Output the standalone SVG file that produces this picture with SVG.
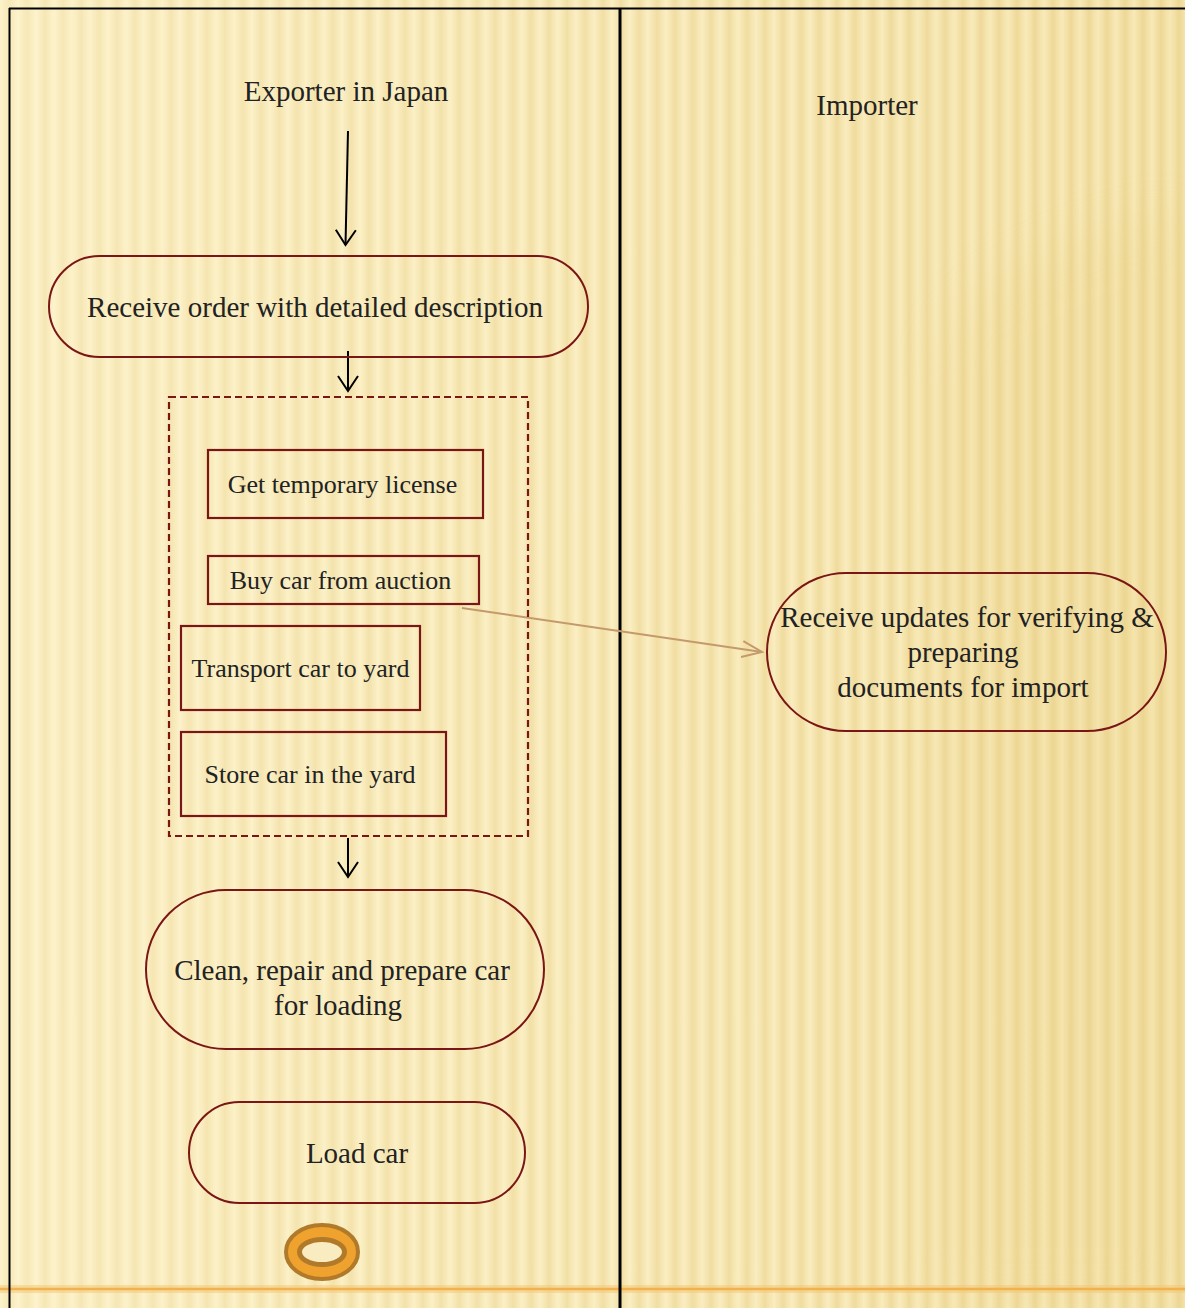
<svg xmlns="http://www.w3.org/2000/svg" width="1185" height="1308" viewBox="0 0 1185 1308">
  <defs>
    <linearGradient id="bgGrad" x1="0" y1="0" x2="1" y2="0">
      <stop offset="0" stop-color="#fdf3cc"/>
      <stop offset="0.5" stop-color="#fbefc4"/>
      <stop offset="1" stop-color="#f8e9b6"/>
    </linearGradient>
    <linearGradient id="stripeGrad" x1="0" y1="0" x2="1" y2="0">
      <stop offset="0" stop-color="#e8cf86" stop-opacity="0"/>
      <stop offset="0.5" stop-color="#e8cf86" stop-opacity="0.85"/>
      <stop offset="1" stop-color="#e8cf86" stop-opacity="0"/>
    </linearGradient>
    <pattern id="stripes" x="0" y="0" width="18" height="40" patternUnits="userSpaceOnUse">
      <rect x="0" y="0" width="18" height="40" fill="url(#stripeGrad)"/>
    </pattern>
    <linearGradient id="stripeFade" x1="0" y1="0" x2="1" y2="0">
      <stop offset="0" stop-color="#fff" stop-opacity="0.35"/>
      <stop offset="0.5" stop-color="#fff" stop-opacity="0.6"/>
      <stop offset="1" stop-color="#fff" stop-opacity="0.8"/>
    </linearGradient>
    <mask id="stripeMask">
      <rect x="0" y="0" width="1185" height="1308" fill="url(#stripeFade)"/>
    </mask>
    <filter id="blur" x="-0.2" y="-0.2" width="1.4" height="1.4">
      <feGaussianBlur stdDeviation="25"/>
    </filter>
    <marker id="arrowBlack" viewBox="-17 -12 19 24" refX="0" refY="0" markerWidth="19" markerHeight="24" markerUnits="userSpaceOnUse" orient="auto">
      <path d="M-15,-10 L0,0 L-15,10" fill="none" stroke="#000" stroke-width="2"/>
    </marker>
    <marker id="arrowTan" viewBox="-22 -10 24 20" refX="0" refY="0" markerWidth="24" markerHeight="20" markerUnits="userSpaceOnUse" orient="auto">
      <path d="M-20,-8 L0,0 L-20,8" fill="none" stroke="#c49a6c" stroke-width="2"/>
    </marker>
    <style>
      .lbl { font-family: "Liberation Serif", "Times New Roman", serif; fill: #222; text-anchor: middle; }
      .big { font-size: 29px; }
      .small { font-size: 26px; }
      .term { fill: none; stroke: #7b1616; stroke-width: 2; }
      .box { fill: none; stroke: #7b1616; stroke-width: 2.2; }
      .group { fill: none; stroke: #7b1616; stroke-width: 2.2; stroke-dasharray: 7 4; }
      .frame { stroke: #000; fill: none; }
      .flow { stroke: #000; stroke-width: 2; fill: none; marker-end: url(#arrowBlack); }
      .msg { stroke: #c49a6c; stroke-width: 2; fill: none; marker-end: url(#arrowTan); }
    </style>
  </defs>

  <!-- background -->
  <rect x="0" y="0" width="1185" height="1308" fill="url(#bgGrad)"/>
  <rect x="0" y="0" width="1185" height="1308" fill="url(#stripes)" mask="url(#stripeMask)"/>
  <path d="M940,1308 L940,340 Q1000,240 1185,210 L1185,1308 Z" fill="#e2c46c" opacity="0.13" filter="url(#blur)"/>
  <line x1="0" y1="1289" x2="1185" y2="1289" stroke="#f6c775" stroke-width="8" opacity="0.5"/>
  <line x1="0" y1="1289" x2="1185" y2="1289" stroke="#f0b24e" stroke-width="2.5"/>

  <!-- frame / swimlanes -->
  <g id="swimlanes">
    <line class="frame" x1="9" y1="8.5" x2="1185" y2="8.5" stroke-width="2"/>
    <line class="frame" x1="9.5" y1="8" x2="9.5" y2="1308" stroke-width="2"/>
    <line class="frame" x1="620" y1="8" x2="620" y2="1308" stroke-width="3"/>
    <text class="lbl big" x="346" y="101">Exporter in Japan</text>
    <text class="lbl big" x="867" y="115">Importer</text>
  </g>

  <!-- connectors -->
  <g id="connectors">
    <line class="flow" x1="348" y1="131" x2="345.5" y2="245"/>
    <line class="flow" x1="348" y1="351" x2="348" y2="391"/>
    <line class="flow" x1="348" y1="838" x2="348" y2="877"/>
    <line class="msg" x1="462" y1="608" x2="762" y2="652"/>
  </g>

  <g id="receive-order">
    <rect class="term" x="49" y="256" width="539" height="101" rx="50.5" ry="50.5"/>
    <text class="lbl big" x="315" y="317">Receive order with detailed description</text>
  </g>

  <g id="procurement-group">
    <rect class="group" x="169" y="397" width="359" height="439"/>
  </g>

  <g id="get-license">
    <rect class="box" x="208" y="450" width="275" height="68"/>
    <text class="lbl small" x="342.5" y="493">Get temporary license</text>
  </g>

  <g id="buy-car">
    <rect class="box" x="208" y="556" width="271" height="48"/>
    <text class="lbl small" x="340.5" y="589">Buy car from auction</text>
  </g>

  <g id="transport-car">
    <rect class="box" x="181" y="626" width="239" height="84"/>
    <text class="lbl small" x="300.5" y="677">Transport car to yard</text>
  </g>

  <g id="store-car">
    <rect class="box" x="181" y="732" width="265" height="84"/>
    <text class="lbl small" x="310" y="783">Store car in the yard</text>
  </g>

  <g id="clean-repair">
    <rect class="term" x="146" y="890" width="398" height="159" rx="79.5" ry="79.5"/>
    <text class="lbl big" x="342" y="980">Clean, repair and prepare car</text>
    <text class="lbl big" x="338" y="1015">for loading</text>
  </g>

  <g id="load-car">
    <rect class="term" x="189" y="1102" width="336" height="101" rx="50.5" ry="50.5"/>
    <text class="lbl big" x="357" y="1163">Load car</text>
  </g>

  <g id="end-state">
    <ellipse cx="322" cy="1252" rx="36" ry="27" fill="#f0a22e" stroke="#b07a2a" stroke-width="4"/>
    <ellipse cx="322" cy="1252" rx="22.5" ry="12.5" fill="#f9ecc0" stroke="#b07a2a" stroke-width="5"/>
  </g>

  <g id="receive-updates">
    <rect class="term" x="767" y="573" width="399" height="158" rx="79" ry="79"/>
    <text class="lbl big" x="967" y="627">Receive updates for verifying &amp;</text>
    <text class="lbl big" x="963" y="662">preparing</text>
    <text class="lbl big" x="963" y="697">documents for import</text>
  </g>
</svg>
